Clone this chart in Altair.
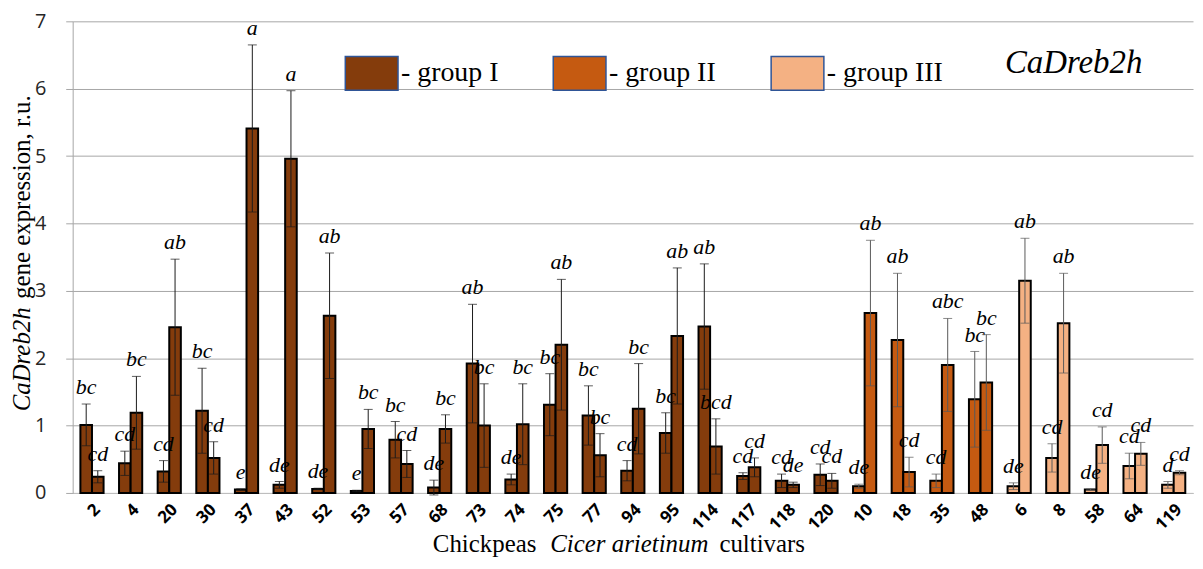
import altair as alt
import pandas as pd

cultivars = ["2", "4", "20", "30", "37", "43", "52", "53", "57", "68", "73", "74", "75", "77",
             "94", "95", "114", "117", "118", "120", "10", "18", "35", "48", "6", "8", "58", "64", "119"]
groups = ["I"] * 20 + ["II"] * 4 + ["III"] * 5

mean_a = [1.01, 0.44, 0.32, 1.22, 0.05, 0.12, 0.06, 0.03, 0.79, 0.08, 1.92, 0.20, 1.31, 1.15,
          0.33, 0.89, 2.47, 0.25, 0.18, 0.27, 0.10, 2.27, 0.18, 1.39, 0.10, 0.52, 0.05, 0.40, 0.12]
sd_a = [0.31, 0.18, 0.16, 0.63, 0.01, 0.05, 0.01, 0.01, 0.27, 0.11, 0.88, 0.08, 0.46, 0.44,
        0.15, 0.30, 0.93, 0.05, 0.10, 0.16, 0.03, 0.99, 0.10, 0.71, 0.05, 0.21, 0.01, 0.19, 0.05]
lab_a = ["bc", "cd", "cd", "bc", "e", "de", "de", "e", "bc", "de", "ab", "de", "bc", "bc",
         "cd", "bc", "ab", "cd", "cd", "cd", "de", "ab", "cd", "bc", "de", "cd", "de", "cd", "d"]

mean_b = [0.24, 1.19, 2.46, 0.52, 5.41, 4.96, 2.63, 0.95, 0.43, 0.95, 1.00, 1.02, 2.20, 0.56,
          1.25, 2.33, 0.69, 0.38, 0.12, 0.18, 2.67, 0.31, 1.90, 1.64, 3.15, 2.52, 0.71, 0.58, 0.30]
sd_b = [0.09, 0.54, 1.01, 0.24, 1.24, 1.01, 0.93, 0.29, 0.20, 0.21, 0.62, 0.60, 0.97, 0.32,
        0.67, 1.01, 0.41, 0.14, 0.04, 0.11, 1.08, 0.22, 0.69, 0.71, 0.63, 0.74, 0.27, 0.17, 0.03]
lab_b = ["cd", "bc", "ab", "cd", "a", "a", "ab", "bc", "cd", "bc", "bc", "bc", "ab", "bc",
         "bc", "ab", "bcd", "cd", "de", "cd", "ab", "cd", "abc", "bc", "ab", "ab", "cd", "cd", "cd"]

group_names = ["I", "II", "III"]
group_colors = ["#843C0C", "#C55A11", "#F4B183"]

SERIF = "'Liberation Serif', 'Times New Roman', Times, 'DejaVu Serif', serif"

rows = []
for i, c in enumerate(cultivars):
    for s, (m, sd, lb) in enumerate([(mean_a[i], sd_a[i], lab_a[i]), (mean_b[i], sd_b[i], lab_b[i])]):
        rows.append({"cultivar": c, "group": groups[i], "series": s, "mean": m,
                     "lo": m - sd, "hi": m + sd, "label": lb})
df = pd.DataFrame(rows)

W, H = 1126, 474
TOP = 12
SVG_H = 553

xenc = alt.X("cultivar:N", sort=cultivars,
             scale=alt.Scale(paddingInner=0.4, paddingOuter=0.2),
             axis=alt.Axis(title=None, labelAngle=-45, labelFont="Open Sans", labelFontWeight="bold",
                           labelFontSize=17, labelColor="#000000", ticks=False, labelPadding=8,
                           domain=True, domainColor="#BFBFBF", grid=False))
xoff = alt.XOffset("series:N", scale=alt.Scale(paddingInner=0, paddingOuter=0))
yscale = alt.Scale(domain=[0, 7], nice=False)

base = alt.Chart(df)

bars = base.mark_bar(stroke="#000000", strokeWidth=2).encode(
    x=xenc,
    xOffset=xoff,
    y=alt.Y("mean:Q", scale=yscale,
            axis=alt.Axis(title=None, values=[0, 1, 2, 3, 4, 5, 6, 7], format="d",
                          labelFont="Open Sans", labelFontSize=20, labelColor="#262626",
                          tickSize=7, tickColor="#A6A6A6", labelPadding=20,
                          domainColor="#A6A6A6", gridColor="#A6A6A6", gridWidth=1)),
    color=alt.Color("group:N", scale=alt.Scale(domain=group_names, range=group_colors),
                    legend=alt.Legend(title=None, orient="none", legendX=273, legendY=72 - TOP - 8 - 27.5,
                                      direction="horizontal",
                                      symbolType="M-1,-0.64L1,-0.64L1,0.64L-1,0.64Z",
                                      symbolSize=2809, symbolStrokeColor="#2F5597",
                                      symbolStrokeWidth=1.5, symbolOpacity=1,
                                      labelExpr="'- group ' + datum.label",
                                      labelFont=SERIF, labelFontSize=28,
                                      labelColor="#000000", labelOffset=2, columnPadding=52,
                                      padding=0)),
)

errcolor = alt.condition(alt.datum.group == "I", alt.value("#1a1a1a"), alt.value("#595959"))

rules = base.mark_rule(strokeWidth=1).encode(
    x=alt.X("cultivar:N", sort=cultivars), xOffset=xoff,
    y=alt.Y("lo:Q", scale=yscale), y2="hi:Q", color=errcolor)

caps_hi = base.mark_tick(size=9, thickness=1, orient="horizontal").encode(
    x=alt.X("cultivar:N", sort=cultivars), xOffset=xoff,
    y=alt.Y("hi:Q", scale=yscale), color=errcolor)

caps_lo = base.mark_tick(size=9, thickness=1, orient="horizontal").encode(
    x=alt.X("cultivar:N", sort=cultivars), xOffset=xoff,
    y=alt.Y("lo:Q", scale=yscale), color=errcolor)

labels = base.mark_text(font=SERIF, fontStyle="italic", fontSize=22,
                        baseline="alphabetic", dy=-10, color="#000000").encode(
    x=alt.X("cultivar:N", sort=cultivars), xOffset=xoff,
    y=alt.Y("hi:Q", scale=yscale), text="label:N")


def txt(s, x, y, size=24, italic=False, angle=0, align="left", baseline="alphabetic"):
    kw = dict(font=SERIF, fontSize=size, align=align, baseline=baseline,
              color="#000000", angle=angle)
    if italic:
        kw["fontStyle"] = "italic"
    return alt.Chart(pd.DataFrame({"t": [s]})).mark_text(**kw).encode(
        x=alt.value(x), y=alt.value(y), text="t:N")


# page-coordinate helpers (page y -> chart y)
def py(y):
    return y - 8 - TOP


ytitle1 = txt("CaDreb2h", -51, py(412), size=25, italic=True, angle=270, baseline="middle")
ytitle2 = txt("gene expression, r.u.", -51, py(299), size=25, angle=270, baseline="middle")
xtitle1 = txt("Chickpeas", 362, py(553), size=25)
xtitle2 = txt("Cicer arietinum", 480, py(553), size=25, italic=True)
xtitle3 = txt("cultivars", 650, py(553), size=25)
gtitle = txt("CaDreb2h", 937, py(72), size=33, italic=True)

chart = alt.layer(bars, rules, caps_hi, caps_lo, labels,
                  ytitle1, ytitle2, xtitle1, xtitle2, xtitle3, gtitle).properties(
    width=W, height=H,
    autosize=alt.AutoSizeParams(type="none"),
    padding={"left": 65, "top": TOP, "right": 2, "bottom": SVG_H - TOP - H},
).configure_view(stroke=None)

chart.save("out.html", embed_options={"renderer": "svg", "actions": False})
